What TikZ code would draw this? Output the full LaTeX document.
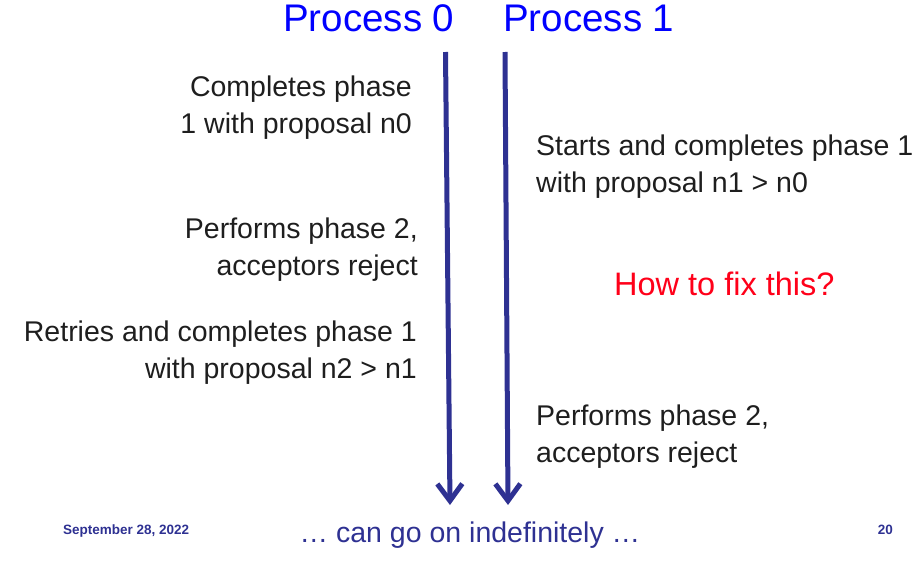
\documentclass[tikz,border=0pt]{standalone}
\usepackage{fontspec}
\setmainfont{Liberation Sans}
\usepackage{xcolor}
\usepackage{tikz}
\usetikzlibrary{arrows.meta,positioning}
\definecolor{navy}{RGB}{46,49,146}
\definecolor{hblue}{RGB}{0,0,255}
\definecolor{hred}{RGB}{255,0,25}
\definecolor{txt}{RGB}{30,30,30}
\tikzset{lt/.style={anchor=base east,align=right,inner sep=0pt,font=\fontsize{28.5}{37}\selectfont,text=txt},
rt/.style={anchor=base west,align=left,inner sep=0pt,font=\fontsize{28.5}{37}\selectfont,text=txt},
hd/.style={anchor=base west,inner sep=0pt,font=\fontsize{38.5}{40}\selectfont,text=hblue},
ft/.style={inner sep=0pt,text=navy,font=\fontsize{13.5}{15}\selectfont\bfseries},
tl/.style={line width=5pt,draw=navy,-{Straight Barb[length=17pt,width=25pt]}}}

\begin{document}
\begin{tikzpicture}[x=1pt,y=-1pt]
        \useasboundingbox (0,0) rectangle (919,565);
        \node[hd] (p0) at (283,31) {Process 0};
        \node[hd] (p1) at (503,31) {Process 1};

        \coordinate (s0) at (445.5,52);
        \coordinate (e0) at (450,505);
        \coordinate (s1) at (505,52);
        \coordinate (e1) at (508,505);
        \draw[tl] (s0) -- (e0);
        \draw[tl] (s1) -- (e1);

        % base of a two-line node = baseline of its last line
        \node[lt] (a1) at (412,133) {Completes phase\\1 with proposal n0};
        \node[lt] (a2) at (418,275) {Performs phase 2,\\acceptors reject};
        \node[lt] (a3) at (417,378) {Retries and completes phase 1\\with proposal n2 > n1};
        \node[rt] (b1) at (536,192) {Starts and completes phase 1\\with proposal n1 > n0};
        \node[rt] (b2) at (536,462) {Performs phase 2,\\acceptors reject};
        \node[rt,text=hred,font=\fontsize{32.5}{36}\selectfont] (q) at (614,295) {How to fix this?};

        \node[ft,anchor=base west] (date) at (63,534) {September 28, 2022};
        \node[ft,anchor=base east] (pg) at (893,534) {20};
        \node[inner sep=0pt,anchor=base,text=navy,font=\fontsize{28.5}{30}\selectfont] (go) at (470,542) {… can go on indefinitely …};
    \end{tikzpicture}
\end{document}
